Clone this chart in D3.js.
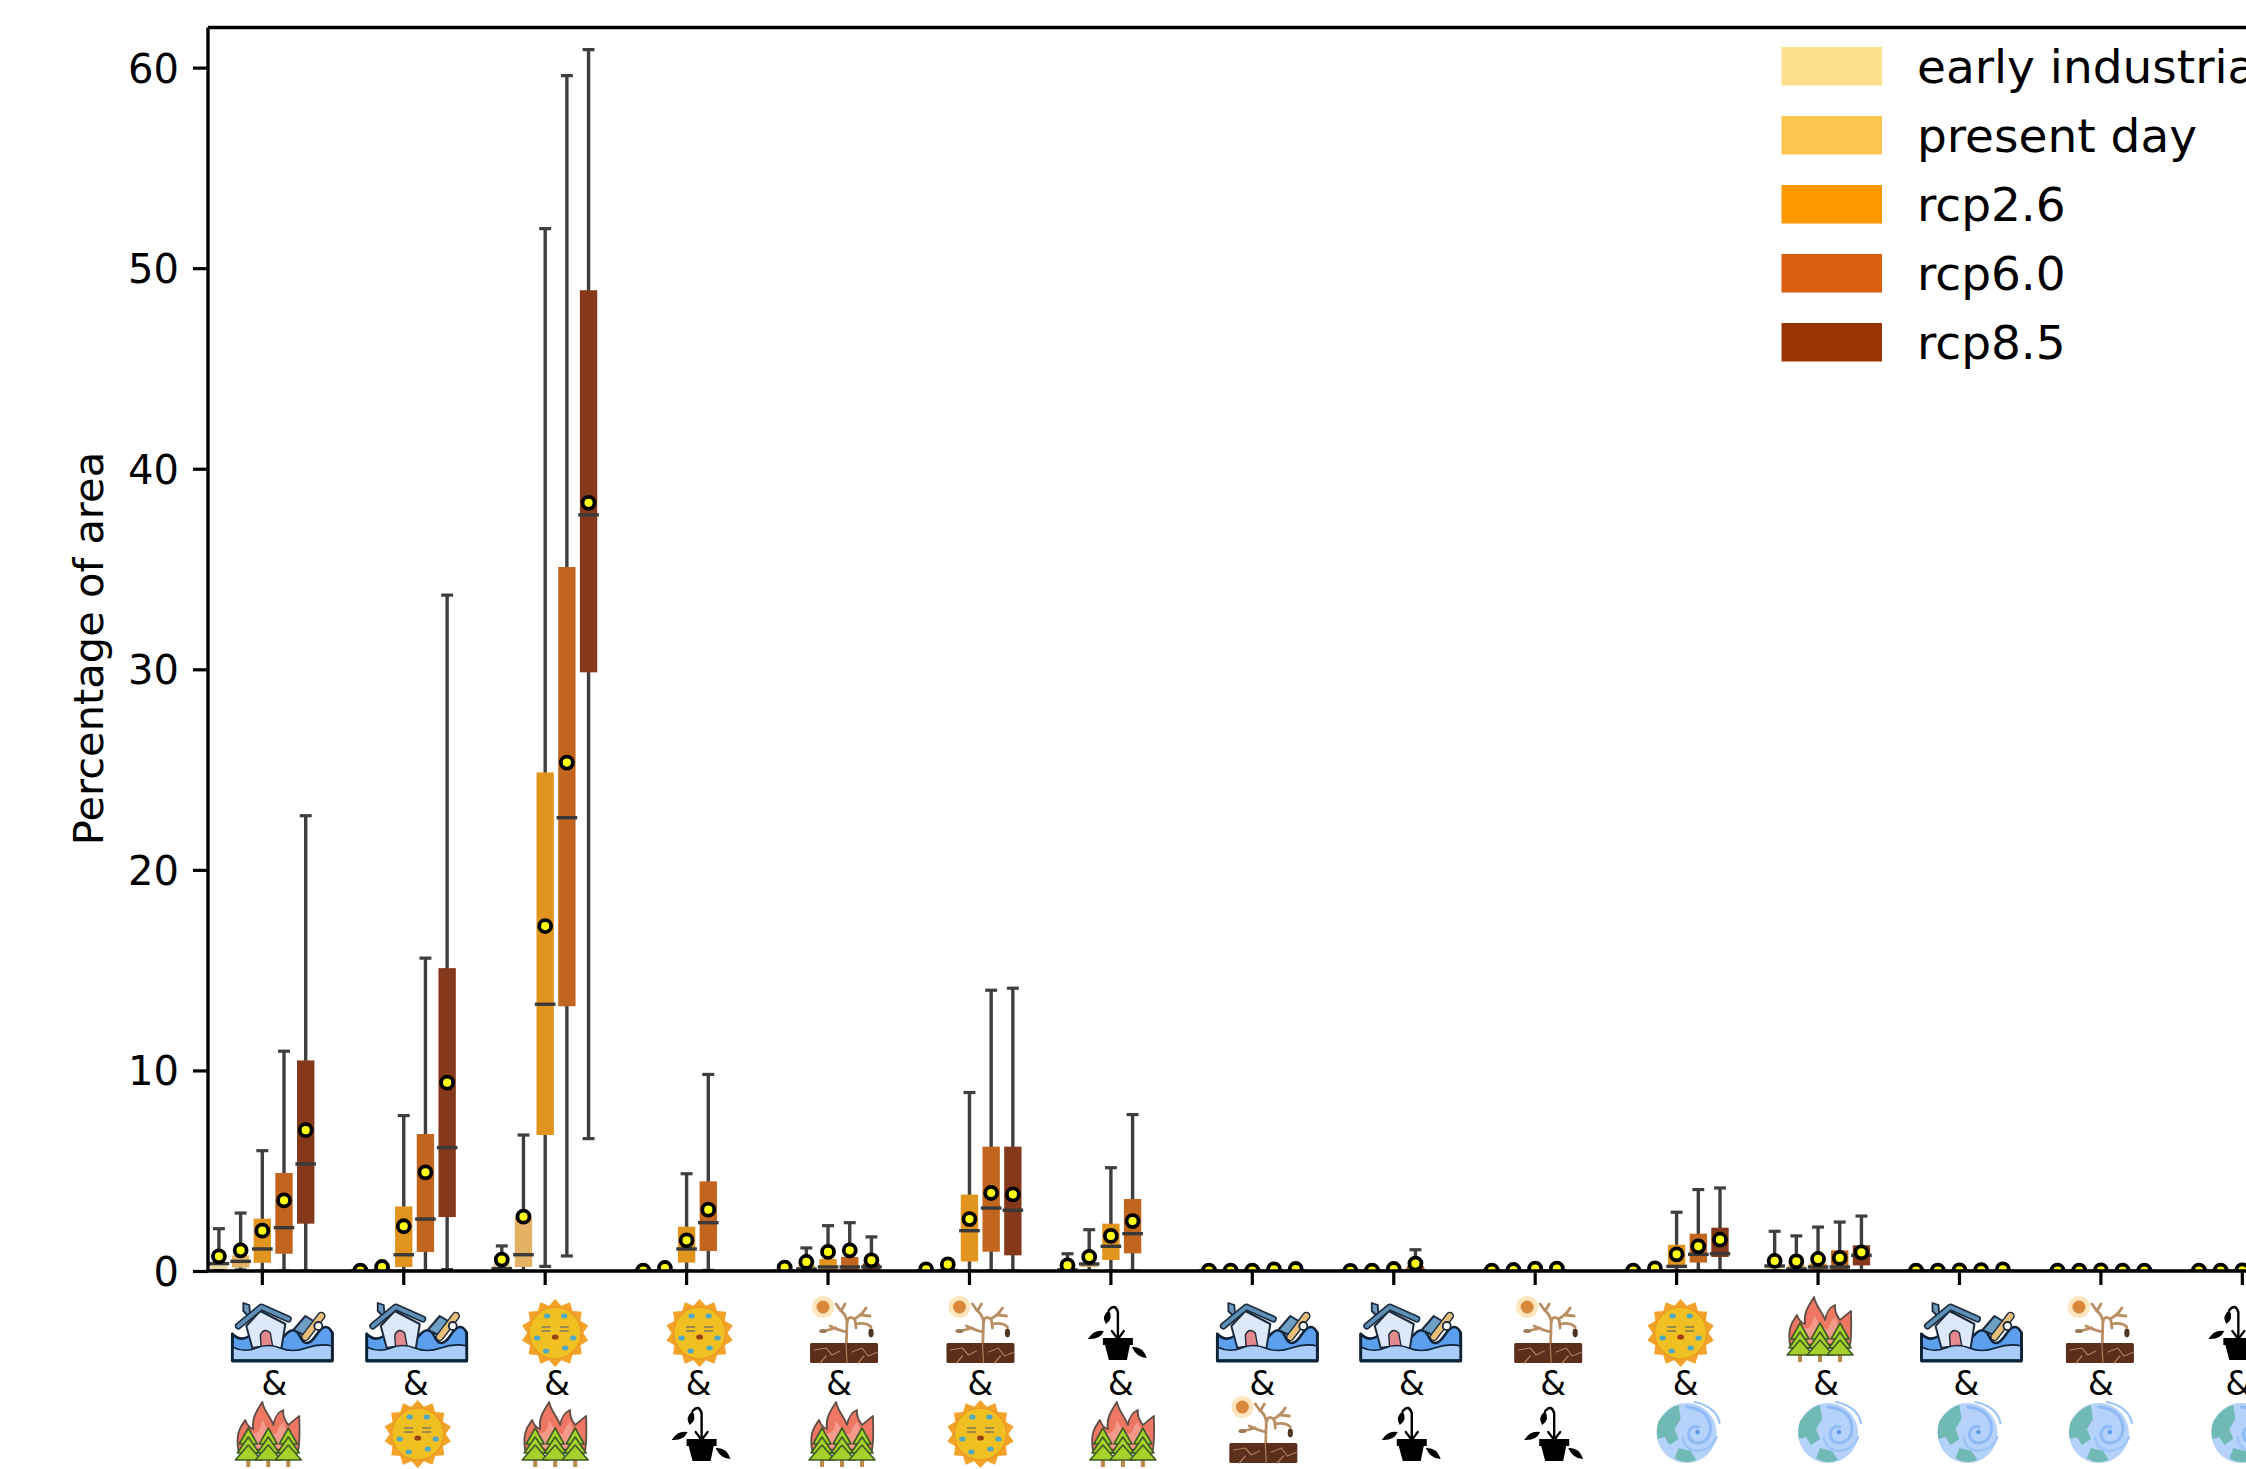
<!DOCTYPE html>
<html>
<head>
<meta charset="utf-8">
<script src="https://cdn.jsdelivr.net/npm/d3@7"></script>
<style>
	html, body { margin: 0; padding: 0; background: #fff; overflow: hidden; }
	svg { display: block; font-family: "DejaVu Sans", sans-serif; }
</style>
</head>
<body>
<div id="chart"></div>
<script>
//chart data. one row per hazard pair, one column per period, null = no box
const periods = ['early industrial', 'present day', 'rcp2.6', 'rcp6.0', 'rcp8.5'];
const tickValues = [0, 10, 20, 30, 40, 50, 60];
const yLabel = 'Percentage of area';

const whiskerHigh = [
	[2.11, 2.89, 6.0, 10.96, 22.7],
	[0.03, 0.3, 7.75, 15.6, 33.7],
	[1.25, 6.78, 51.97, 59.6, 60.9],
	[0.03, 0.2, 4.85, 9.8, null],
	[0.2, 1.15, 2.26, 2.41, 1.7],
	[0.05, 0.35, 8.9, 14.0, 14.1],
	[0.86, 2.06, 5.15, 7.8, null],
	[0.03, 0.03, 0.03, 0.1, 0.15],
	[0.02, 0.03, 0.15, 1.06, null],
	[0.02, 0.05, 0.15, 0.15, null],
	[0.03, 0.15, 2.93, 4.06, 4.14],
	[1.98, 1.75, 2.19, 2.44, 2.74],
	[0.02, 0.02, 0.03, 0.05, 0.1],
	[0.02, 0.02, 0.03, 0.02, 0.02],
	[0.02, 0.02, 0.03, 0.02, 0.02]
];
const q3 = [
	[0.3, 0.78, 2.61, 4.89, 10.5],
	[0.01, 0.1, 3.22, 6.83, 15.1],
	[0.37, 2.69, 24.86, 35.1, 48.9],
	[0.01, 0.05, 2.21, 4.47, null],
	[0.03, 0.28, 0.6, 0.7, 0.37],
	[0.01, 0.1, 3.81, 6.2, 6.2],
	[0.15, 0.28, 2.36, 3.59, null],
	[0, 0, 0, 0.03, 0.05],
	[0, 0, 0.03, 0.25, null],
	[0, 0, 0.03, 0.03, null],
	[0, 0.03, 1.31, 1.86, 2.16],
	[0.28, 0.3, 0.37, 1.03, 1.28],
	[0, 0, 0, 0.01, 0.02],
	[0, 0, 0, 0, 0],
	[0, 0, 0, 0, 0]
];
const medians = [
	[0.37, 0.48, 1.1, 2.16, 5.34],
	[0, 0.02, 0.81, 2.59, 6.15],
	[0.12, 0.81, 13.3, 22.6, 37.7],
	[0, 0.01, 1.1, 2.41, null],
	[0, 0.1, 0.2, 0.2, 0.2],
	[0, 0.02, 2.01, 3.14, 3.03],
	[0.05, 0.35, 1.23, 1.86, null],
	[0, 0, 0, 0, 0],
	[0, 0, 0, 0.03, null],
	[0, 0, 0, 0, null],
	[0, 0, 0.23, 0.83, 0.86],
	[0.25, 0.1, 0.2, 0.2, 0.78],
	[0, 0, 0, 0, 0],
	[0, 0, 0, 0, 0],
	[0, 0, 0, 0, 0]
];
const q1 = [
	[0.1, 0.17, 0.41, 0.86, 2.36],
	[0, 0, 0.2, 0.95, 2.69],
	[0.03, 0.2, 6.78, 13.2, 29.85],
	[0, 0, 0.42, 1.0, null],
	[0, 0.02, 0.03, 0.03, 0.03],
	[0, 0, 0.47, 0.96, 0.78],
	[0.02, 0.2, 0.55, 0.88, null],
	[0, 0, 0, 0, 0],
	[0, 0, 0, 0, null],
	[0, 0, 0, 0, null],
	[0, 0, 0.17, 0.42, 0.7],
	[0.1, 0.03, 0.1, 0.05, 0.28],
	[0, 0, 0, 0, 0],
	[0, 0, 0, 0, 0],
	[0, 0, 0, 0, 0]
];
const whiskerLow = [
	[0.05, 0.05, 0, 0, 0],
	[0, 0, 0, 0, 0.07],
	[0.03, 0, 0.23, 0.75, 6.6],
	[0, 0, 0, 0.03, null],
	[0, 0, 0, 0, 0],
	[0, 0, 0, 0, 0],
	[0, 0, 0, 0, null],
	[0, 0, 0, 0, 0],
	[0, 0, 0, 0, null],
	[0, 0, 0, 0, null],
	[0, 0, 0, 0, 0],
	[0, 0, 0, 0, 0],
	[0, 0, 0, 0, 0],
	[0, 0, 0, 0, 0],
	[0, 0, 0, 0, 0]
];
const means = [
	[0.73, 1.03, 2.01, 3.52, 7.02],
	[0.02, 0.2, 2.23, 4.92, 9.39],
	[0.57, 2.71, 17.2, 25.35, 38.3],
	[0.02, 0.15, 1.53, 3.06, null],
	[0.17, 0.45, 0.95, 1.03, 0.53],
	[0.08, 0.33, 2.59, 3.89, 3.82],
	[0.28, 0.7, 1.75, 2.49, null],
	[0.02, 0.02, 0.02, 0.08, 0.1],
	[0.01, 0.02, 0.1, 0.37, null],
	[0.02, 0.05, 0.12, 0.12, null],
	[0.02, 0.13, 0.83, 1.23, 1.56],
	[0.5, 0.48, 0.6, 0.65, 0.93],
	[0.02, 0.02, 0.03, 0.04, 0.08],
	[0.02, 0.02, 0.03, 0.02, 0.02],
	[0.02, 0.02, 0.03, 0.02, 0.02]
];

//hazards under each tick
const topHazards = ['flood', 'flood', 'heat', 'heat', 'drought', 'drought', 'crop', 'flood', 'flood', 'drought', 'heat', 'fire', 'flood', 'drought', 'crop'];
const bottomHazards = ['fire', 'heat', 'fire', 'crop', 'fire', 'heat', 'fire', 'drought', 'crop', 'crop', 'cyclone', 'cyclone', 'cyclone', 'cyclone', 'cyclone'];

//colours
const legendColors = ['#fee08f', '#fec450', '#ff9900', '#d95f0e', '#993404'];
const boxColors = ['#ebd9a3', '#e3b264', '#e1951f', '#c1651f', '#85381a'];

const width = 2246,
	height = 1469,
	margin = {top: 27.5, left: 208, bottom: 198},
	innerWidth = width - margin.left,
	innerHeight = height - margin.top - margin.bottom;

const svg = d3.select('#chart').append('svg').attr('width', width).attr('height', height);
const defs = svg.append('defs');
defs.append('clipPath').attr('id', 'plot-clip').append('rect')
	.attr('width', innerWidth).attr('height', innerHeight);
defs.append('filter').attr('id', 'soft').append('feGaussianBlur').attr('stdDeviation', 0.45);

const g = svg.append('g').attr('transform', `translate(${margin.left}, ${margin.top})`);

//X scale - hazard pair, runs past the right edge like the reference crop
const x0 = d3.scaleBand()
	.domain(d3.range(whiskerHigh.length))
	.range([262.3 - 70.7 - margin.left, 262.3 - 70.7 - margin.left + 141.43 * whiskerHigh.length]);
//X scale - period inside a group
const x1 = d3.scaleBand()
	.domain(periods)
	.range([0, x0.bandwidth() * 0.767]);
const groupShift = (x0.bandwidth() - x1.range()[1]) / 2;
const boxW = x1.bandwidth() * 0.8, medW = x1.bandwidth() * 0.95, capW = x1.bandwidth() * 0.55;
const y = d3.scaleLinear().domain([0, 62]).range([innerHeight, 0]);

//flatten the arrays for the joins
const boxes = [];
whiskerHigh.forEach((row, i) => row.forEach((hi, j) => {
	if (hi === null) return;
	boxes.push({
		group: i, period: periods[j], color: boxColors[j], hi: hi, q3: q3[i][j],
		med: medians[i][j], q1: q1[i][j], lo: whiskerLow[i][j], mean: means[i][j]
	});
}));
const cx = d => x0(d.group) + groupShift + x1(d.period) + x1.bandwidth() / 2;

const plot = g.append('g').attr('clip-path', 'url(#plot-clip)');
const box = plot.selectAll('g.box').data(boxes).enter().append('g').attr('class', 'box');

box.append('line')
	.attr('x1', cx).attr('x2', cx)
	.attr('y1', d => y(d.hi)).attr('y2', d => y(d.lo))
	.attr('stroke', '#3f3f3f').attr('stroke-width', 3.4);
['hi', 'lo'].forEach(k => {
	box.append('line')
		.attr('x1', d => cx(d) - capW / 2).attr('x2', d => cx(d) + capW / 2)
		.attr('y1', d => y(d[k])).attr('y2', d => y(d[k]))
		.attr('stroke', '#3f3f3f').attr('stroke-width', 3.2);
});
box.append('rect')
	.attr('x', d => cx(d) - boxW / 2)
	.attr('y', d => y(d.q3))
	.attr('width', boxW)
	.attr('height', d => y(d.q1) - y(d.q3))
	.attr('fill', d => d.color);
box.append('line')
	.attr('x1', d => cx(d) - medW / 2).attr('x2', d => cx(d) + medW / 2)
	.attr('y1', d => y(d.med)).attr('y2', d => y(d.med))
	.attr('stroke', '#3a3a3a').attr('stroke-width', 3.4);
box.append('circle')
	.attr('cx', cx).attr('cy', d => y(d.mean))
	.attr('r', 6)
	.attr('fill', '#ffff14')
	.attr('stroke', '#000').attr('stroke-width', 3.8);

//axes
const yAxis = g.append('g').call(d3.axisLeft(y).tickValues(tickValues).tickSize(15).tickPadding(14));
const xAxis = g.append('g').attr('transform', `translate(0, ${innerHeight})`)
	.call(d3.axisBottom(x0).tickSize(14).tickFormat(''));
yAxis.select('.domain').remove();
xAxis.select('.domain').remove();
xAxis.selectAll('text').remove();
g.selectAll('.tick line').attr('stroke', '#000').attr('stroke-width', 3.2);
yAxis.selectAll('text').attr('font-size', 40).attr('fill', '#000').attr('dy', '0.36em').attr('font-family', '"DejaVu Sans"');
g.append('line').attr('x2', innerWidth).attr('stroke', '#000').attr('stroke-width', 3.4);
g.append('line').attr('x2', innerWidth).attr('y1', innerHeight).attr('y2', innerHeight).attr('stroke', '#000').attr('stroke-width', 3.4);
g.append('line').attr('y2', innerHeight).attr('stroke', '#000').attr('stroke-width', 3.4);

svg.append('text')
	.attr('transform', `translate(88, ${margin.top + 621}) rotate(-90)`)
	.attr('text-anchor', 'middle')
	.attr('dy', '0.36em')
	.attr('font-size', 41.6)
	.text(yLabel);

//legend
const legend = g.append('g')
	.selectAll('g')
	.data(periods)
	.enter().append('g')
	.attr('transform', (d, i) => `translate(${1781.5 - margin.left}, ${47 - margin.top + i * 69})`);
legend.append('rect')
	.attr('width', 100.5)
	.attr('height', 38.5)
	.attr('fill', (d, i) => legendColors[i]);
legend.append('text')
	.attr('x', 135.5)
	.attr('y', 19)
	.attr('dy', '0.36em')
	.attr('font-size', 47)
	.text(d => d);

//icons under the axis
const path = (sel, d, fill, stroke, sw) => sel.append('path').attr('d', d)
	.attr('fill', fill || 'none').attr('stroke', stroke || 'none').attr('stroke-width', sw || 0)
	.attr('stroke-linejoin', 'round').attr('stroke-linecap', 'round');

const icons = {
	flood: s => {
		//water behind, then house and car, then the pale front wave
		path(s, 'M-50,27 L-50,1 Q-42,9 -33,3 T-16,6 T2,3 T18,4 T34,2 T50,0 L50,27 Z', '#5c9fef', '#0d2236', 2.6);
		path(s, 'M-39,-22 L-39,-30 L-33,-28 L-32,-15 Z', '#6d9bc0', '#1b2c3e', 1.8);
		path(s, 'M-36,-7 L-22,-22 L3,-9 L-1,16 Q-16,12 -30,15 Z', '#dde8f8', '#1b2c3e', 2);
		path(s, 'M-21,17 L-22,2 Q-18,-6 -12,0 L-9,17 Z', '#e4898e', '#1b2c3e', 1.4);
		path(s, 'M-44,-7 L-21,-26 L6,-14', 'none', '#1b2c3e', 7);
		path(s, 'M-44,-7 L-21,-26 L6,-14', 'none', '#5f8fb6', 3.8);
		path(s, 'M11,-3 L23,-17 L33,-11 L26,4 Z', '#6f9fc6', '#1b2c3e', 2);
		path(s, 'M23,4 L39,-17', 'none', '#1b2c3e', 8.5);
		path(s, 'M23,4 L39,-17', 'none', '#e8be78', 5.5);
		s.append('circle').attr('cx', 36).attr('cy', -7).attr('r', 4).attr('fill', '#fff').attr('stroke', '#1b2c3e').attr('stroke-width', 1.8);
		path(s, 'M-50,27 L-50,14 Q-38,20 -26,15 T-2,15 T24,15 T50,13 L50,27 Z', '#a9cdf8', '#0d2236', 1.6);
		path(s, 'M-50,28 L50,28 M-50,1 L-50,28 M50,0 L50,28', 'none', '#0d2236', 2.8);
	},
	heat: s => {
		const rays = d3.range(28).map(i => {
			const a = i * Math.PI / 14, r = i % 2 ? 28 : 34;
			return [r * Math.sin(a), -r * Math.cos(a)];
		});
		s.append('path').attr('d', d3.line()(rays) + 'Z').attr('fill', '#f3a329');
		s.append('circle').attr('r', 26).attr('fill', '#f0bf24').attr('stroke', '#eb9a22').attr('stroke-width', 1.5);
		[[-8, -17], [9, -17], [-18, 5], [18, 5], [-9, 18], [10, 15]].forEach(c => {
			s.append('ellipse').attr('cx', c[0]).attr('cy', c[1]).attr('rx', 3.2).attr('ry', 2.5).attr('fill', '#4ea9c4');
		});
		path(s, 'M-13,-6 L-5,-6 M-13,-2 L-5,-2 M5,-6 L13,-6 M5,-2 L13,-2', 'none', '#7b7b5a', 1.3);
		s.append('ellipse').attr('cy', 4).attr('rx', 3.4).attr('ry', 2.6).attr('fill', '#9a3f16');
	},
	drought: s => {
		s.append('circle').attr('cx', -21).attr('cy', -23).attr('r', 11).attr('fill', '#fde6bd');
		s.append('circle').attr('cx', -21).attr('cy', -23).attr('r', 6.5).attr('fill', '#d9883a');
		path(s, 'M2,26 L3,-8 Q5,-16 11,-10 L12,-2 M3,-8 Q2,-16 -4,-20 M-3,-19 L-8,-26 M-3,-19 L1,-26 M2,2 Q-6,0 -14,-4 M-8,-2 L-20,1 M10,-11 Q18,-15 22,-22 M17,-15 L26,-14 M12,-6 Q22,-8 27,-3', 'none', '#b98e62', 2.8);
		s.append('ellipse').attr('cx', 27).attr('cy', 3).attr('rx', 2.6).attr('ry', 4.4).attr('fill', '#4e3520');
		s.append('ellipse').attr('cx', -21).attr('cy', 1).attr('rx', 4).attr('ry', 2).attr('fill', '#9c7a58');
		s.append('rect').attr('x', -34).attr('y', 13).attr('width', 68).attr('height', 20).attr('rx', 1.5).attr('fill', '#5b2e1a');
		path(s, 'M-30,20 L-18,18 L-12,25 L-4,21 M-24,33 L-18,26 M2,13 L3,33 M8,22 L18,18 L24,26 L34,22 M14,33 L20,26', 'none', '#ad7e5c', 1.2);
	},
	crop: s => {
		path(s, 'M0,8 L0,-20 Q-3,-29 -9,-22', 'none', '#000', 2.4);
		path(s, 'M-6,-1 L0,7 L6,-1', 'none', '#000', 2.2);
		path(s, 'M-9,-22 Q-17,-16 -12,-8 Q-4,-13 -9,-22 Z', '#000');
		path(s, 'M-30,7 Q-24,-3 -14,-1 Q-18,8 -30,7 Z', '#000');
		path(s, 'M14,15 Q25,14 29,26 Q19,26 14,15 Z', '#000');
		s.append('rect').attr('x', -15).attr('y', 6).attr('width', 30).attr('height', 7).attr('fill', '#000');
		path(s, 'M-13,13 L12,13 L9,28 L-9,28 Z', '#000');
	},
	fire: s => {
		path(s, 'M-30,16 C-33,-2 -27,-8 -23,-14 C-21,-8 -19,-6 -15,-5 C-17,-16 -11,-24 -6,-32 C-4,-22 2,-18 5,-9 C6,-16 10,-22 15,-24 C14,-16 18,-12 20,-9 C24,-12 28,-16 31,-18 C31,-6 32,4 30,16 Z', '#ee7763', '#5e4e46', 1.8);
		path(s, 'M-24,14 C-25,4 -22,0 -20,-4 C-14,2 -8,0 -6,-14 C-2,-6 2,0 8,0 C10,-6 12,-10 16,-12 C16,-4 22,0 25,-2 L25,14 Z', '#f39a8a');
		[-20, 0, 20].forEach(tx => {
			s.append('rect').attr('x', tx - 2).attr('y', 22).attr('width', 4).attr('height', 11).attr('fill', '#b78a4a');
			[[-6, 10, 9], [3, 19, 11], [11, 26, 13]].forEach(t => {
				s.append('path').attr('d', `M${tx},${t[0]} L${tx + t[2]},${t[1]} L${tx - t[2]},${t[1]} Z`)
					.attr('fill', '#a6d02a').attr('stroke', '#3c5a26').attr('stroke-width', 1.6).attr('stroke-linejoin', 'round');
			});
		});
	},
	cyclone: s => {
		s.append('circle').attr('r', 30).attr('fill', '#b5d3fa');
		path(s, 'M-28,-12 Q-18,-26 -8,-28 L-6,-14 L-12,-4 L-8,6 L-17,12 L-22,4 L-29,6 Q-31,-4 -28,-12 Z', '#6fb9b4');
		path(s, 'M-12,25 L-8,15 L4,18 L10,27 Q-2,32 -12,25 Z', '#6fb9b4');
		path(s, 'M0,-26 Q22,-24 24,-6 Q24,8 12,10 Q2,10 2,0 Q4,-8 12,-6', 'none', '#8fbaf8', 3);
		path(s, 'M8,-31 Q30,-26 33,-10 M-4,4 Q-2,18 12,18 Q26,16 30,4', 'none', '#9cc3f9', 2.2);
		s.append('circle').attr('cx', 11).attr('cy', -1).attr('r', 2.2).attr('fill', '#5b96e4');
	}
};

//icons were placed by hand in the original, so each one has its own nudge from the tick
const topIconShift = [20, 13, 10, 13, 16, 11, 7, 15, 17, 13, 4, 2, 12, -1, -4];
const bottomIconShift = [6, 14, 10, 15, 14, 11, 12, 11, 18, 19, 10, 10, 8, -2, -1];
const ampShift = [12, 12, 12, 12, 11, 11, 10, 10, 18, 18, 9, 8, 7, 0, -4];
const topIconY = {flood: 1333, heat: 1333, drought: 1330, crop: 1332, fire: 1329};
const bottomIconY = {fire: 1434, heat: 1434, drought: 1430, crop: 1433, cyclone: 1433};
const tickX = i => x0(i) + x0.bandwidth() / 2 + margin.left;

const labels = svg.append('g').selectAll('g').data(topHazards).enter().append('g');
labels.append('g')
	.attr('filter', 'url(#soft)')
	.attr('transform', (d, i) => `translate(${tickX(i) + topIconShift[i]}, ${topIconY[d]})`)
	.each(function(d) { icons[d](d3.select(this)); });
labels.append('text')
	.attr('x', (d, i) => tickX(i) + ampShift[i])
	.attr('y', 1383)
	.attr('dy', '0.36em')
	.attr('text-anchor', 'middle')
	.attr('font-size', 33)
	.text('&');
labels.append('g')
	.attr('filter', 'url(#soft)')
	.attr('transform', (d, i) => `translate(${tickX(i) + bottomIconShift[i]}, ${bottomIconY[bottomHazards[i]]})`)
	.each(function(d, i) { icons[bottomHazards[i]](d3.select(this)); });
</script>
</body>
</html>
